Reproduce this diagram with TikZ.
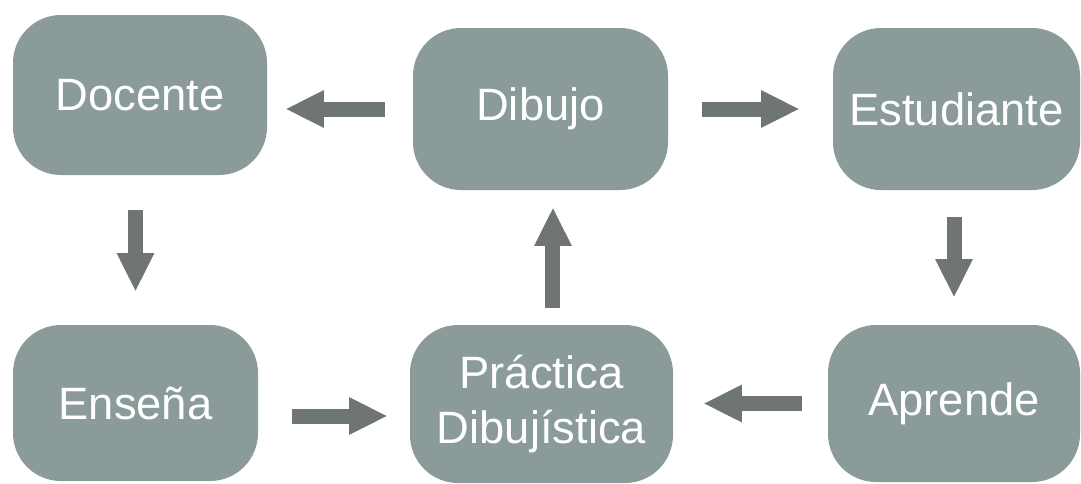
\documentclass[tikz,border=0pt]{standalone}
\usepackage{fontspec}
\setmainfont{Liberation Sans}
\usetikzlibrary{arrows.meta}

\begin{document}
\begin{tikzpicture}[x=0.75pt,y=0.75pt,yscale=-1,xscale=1,
  caja/.style={fill={rgb, 255:red, 138; green, 155; blue, 153 }, rounded corners=36pt, text=white, font=\fontsize{34}{41}\selectfont, align=center, inner sep=0pt},
  flecha/.style={draw={rgb, 255:red, 111; green, 117; blue, 114 }, line width=11.25pt, -{Triangle[length=29pt,width=26pt]}}]
\useasboundingbox (0,0) rectangle (1081,483);

% Text Node
\draw (140,95) node [caja, minimum width=190.5pt, minimum height=120pt] (docente) {Docente};
% Text Node
\draw (540.5,109) node [caja, minimum width=191.25pt, minimum height=121.5pt] (dibujo) {Dibujo};
% Text Node
\draw (956.5,109) node [caja, minimum width=185.25pt, minimum height=121.5pt] (estudiante) {Estudiante};
% Text Node
\draw (135.5,403) node [caja, minimum width=183.75pt, minimum height=117pt] (ensena) {Enseña};
% Text Node
\draw (541.5,404) node [caja, minimum width=197.25pt, minimum height=118.5pt] (practica) {Práctica\\Dibujística};
% Text Node
\draw (954,403.5) node [caja, minimum width=189pt, minimum height=117.75pt] (aprende) {Aprende};

%Straight Lines
\draw [flecha, shorten <=21pt, shorten >=13.5pt] (dibujo.west) -- (docente.east |- dibujo.west);
%Straight Lines
\draw [flecha, shorten <=25.5pt, shorten >=24.75pt] (dibujo.east) -- (estudiante.west |- dibujo.east);
%Straight Lines
\draw [flecha, shorten <=26.25pt, shorten >=24.75pt] (docente.south -| ensena.north) -- (ensena.north);
%Straight Lines
\draw [flecha, shorten <=20.25pt, shorten >=20.25pt] (estudiante.south -| aprende.north) -- (aprende.north);
%Straight Lines
\draw [flecha, shorten <=25.5pt, shorten >=16.5pt] ([yshift=9.75pt]ensena.east) -- ([yshift=9.75pt]ensena.east -| practica.west);
%Straight Lines
\draw [flecha, shorten <=19.5pt, shorten >=22.5pt] (aprende.west) -- (practica.east |- aprende.west);
%Straight Lines
\draw [flecha, shorten <=12.75pt, shorten >=12.75pt] ([xshift=8.6pt]practica.north) -- ([xshift=8.6pt]practica.north |- dibujo.south);

\end{tikzpicture}
\end{document}
